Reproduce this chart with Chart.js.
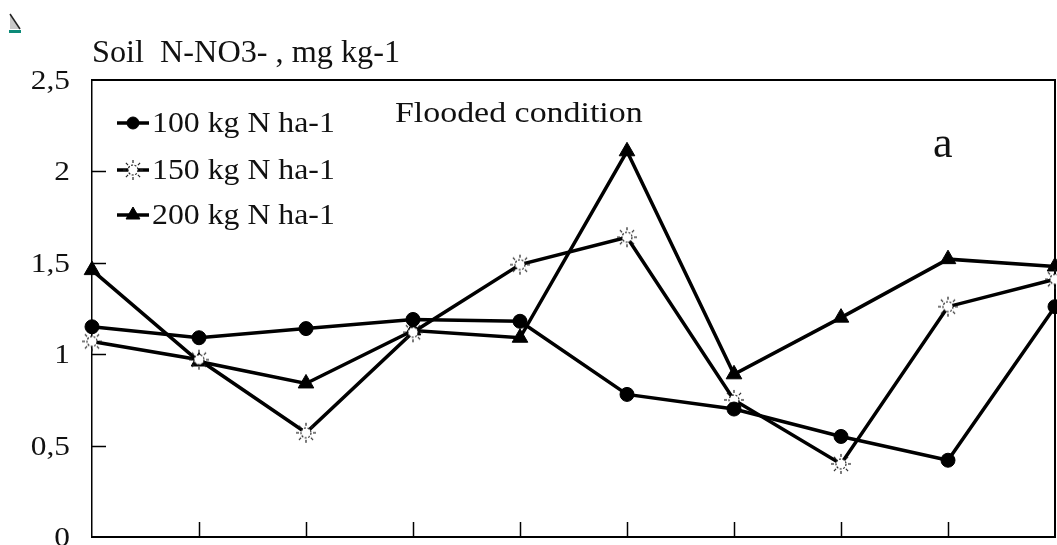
<!DOCTYPE html>
<html>
<head>
<meta charset="utf-8">
<script src="https://cdn.jsdelivr.net/npm/chart.js@4/dist/chart.umd.min.js"></script>
<style>
  html, body { margin: 0; padding: 0; background: #fff; }
  #wrap { width: 1057px; height: 545px; }
</style>
</head>
<body>
<div id="wrap"><canvas id="chart" width="1057" height="545"></canvas></div>
<script>
// Soil N-NO3- under flooded condition, three N rates

const categories = ['1', '2', '3', '4', '5', '6', '7', '8', '9', '10'];
const n100 = [1.15, 1.09, 1.14, 1.19, 1.18, 0.78, 0.70, 0.55, 0.42, 1.26];
const n150 = [1.07, 0.97, 0.57, 1.12, 1.49, 1.64, 0.75, 0.40, 1.26, 1.41];
const n200 = [1.46, 0.96, 0.84, 1.13, 1.09, 2.11, 0.89, 1.20, 1.52, 1.48];
const seriesLabels = ['100 kg N ha-1', '150 kg N ha-1', '200 kg N ha-1'];
const yTicks = [0, 0.5, 1, 1.5, 2, 2.5];

const SERIF = "'Liberation Serif', 'DejaVu Serif', serif";

// marcador "sol": círculo tracejado com raios curtos
function marcadorSol() {
  const c = document.createElement('canvas');
  c.width = 22; c.height = 22;
  const g = c.getContext('2d');
  g.strokeStyle = '#222';
  g.fillStyle = '#fff';
  g.lineWidth = 1.2;
  g.beginPath();
  g.arc(11, 11, 5, 0, Math.PI * 2);
  g.fill();
  g.setLineDash([2, 1.5]);
  g.stroke();
  g.setLineDash([]);
  for (let k = 0; k < 8; k++) {
    const ang = (k * Math.PI) / 4;
    g.beginPath();
    g.moveTo(11 + Math.cos(ang) * 7, 11 + Math.sin(ang) * 7);
    g.lineTo(11 + Math.cos(ang) * 10, 11 + Math.sin(ang) * 10);
    g.stroke();
  }
  return c;
}
const sol = marcadorSol();

const estilos = [
  { pointStyle: 'circle', pointRadius: 7, pointBackgroundColor: '#000', pointBorderWidth: 1 },
  { pointStyle: sol, pointRadius: 8, pointBackgroundColor: '#fff', pointBorderWidth: 1 },
  { pointStyle: 'triangle', pointRadius: 9, pointBackgroundColor: '#000', pointBorderWidth: 1 },
];

function texto(ctx, str, x, y, size, sx, align) {
  ctx.save();
  ctx.font = `${size}px ${SERIF}`;
  ctx.fillStyle = '#111';
  ctx.textBaseline = 'alphabetic';
  ctx.textAlign = align || 'left';
  ctx.translate(x, y);
  ctx.scale(sx || 1, 1);
  ctx.fillText(str, 0, 0);
  ctx.restore();
}

const decor = {
  id: 'decor',
  beforeDatasetsDraw(chart) {
    const { ctx, chartArea: a, scales } = chart;
    ctx.save();
    ctx.strokeStyle = '#000';
    // caixa (topo e direita)
    ctx.lineWidth = 2;
    ctx.beginPath();
    ctx.moveTo(a.left, a.top);
    ctx.lineTo(a.right, a.top);
    ctx.lineTo(a.right, a.bottom);
    ctx.stroke();
    // ticks internos no eixo y + rótulos
    ctx.lineWidth = 1.5;
    yTicks.forEach((v, i) => {
      const y = Math.round(scales.y.getPixelForValue(v)) + 0.5;
      if (i > 0 && i < yTicks.length - 1) {
        ctx.beginPath();
        ctx.moveTo(a.left, y);
        ctx.lineTo(a.left + 14, y);
        ctx.stroke();
      }
      texto(ctx, String(v).replace('.', ','), 70, y + 8, 28, 1.12, 'right');
    });
    // ticks para cima no eixo x
    for (let i = 1; i < categories.length - 1; i++) {
      const x = Math.round(scales.x.getPixelForValue(i)) + 0.5;
      ctx.beginPath();
      ctx.moveTo(x, a.bottom);
      ctx.lineTo(x, a.bottom - 15);
      ctx.stroke();
    }
    ctx.restore();
  },
  afterDraw(chart) {
    const { ctx } = chart;
    // pequeno ícone no canto
    ctx.save();
    ctx.fillStyle = '#c8c8c8';
    ctx.beginPath();
    ctx.moveTo(10, 14); ctx.lineTo(20, 29); ctx.lineTo(10, 29); ctx.closePath();
    ctx.fill();
    ctx.strokeStyle = '#222'; ctx.lineWidth = 1.5;
    ctx.beginPath(); ctx.moveTo(10, 14); ctx.lineTo(20, 29); ctx.stroke();
    ctx.fillStyle = '#0c8a78';
    ctx.fillRect(9, 30, 12, 3);
    ctx.restore();

    texto(ctx, 'Soil  N-NO3- , mg kg-1', 92, 62, 31, 1.04);
    texto(ctx, 'Flooded condition', 395, 122, 30, 1.13);
    texto(ctx, 'a', 933, 157, 44, 1);

    // legenda
    const linhas = [123, 170, 215];
    chart.data.datasets.forEach((ds, i) => {
      const y = linhas[i];
      ctx.save();
      ctx.strokeStyle = '#000';
      ctx.lineWidth = 3.5;
      ctx.beginPath();
      ctx.moveTo(117, y);
      ctx.lineTo(149, y);
      ctx.stroke();
      ctx.fillStyle = ds.pointBackgroundColor;
      ctx.strokeStyle = '#000';
      ctx.lineWidth = ds.pointBorderWidth;
      Chart.helpers.drawPoint(ctx, {
        pointStyle: ds.pointStyle,
        radius: ds.pointRadius - 1,
        rotation: 0,
        borderWidth: ds.pointBorderWidth,
      }, 133, y);
      ctx.restore();
      texto(ctx, seriesLabels[i], 152, y + 9, 30, 1.06);
    });
  },
};

const series = [n100, n150, n200];

new Chart(document.getElementById('chart'), {
  type: 'line',
  data: {
    labels: categories,
    datasets: series.map((valores, i) => ({
      label: seriesLabels[i],
      data: valores,
      borderColor: '#000',
      borderWidth: 3.5,
      pointBorderColor: '#000',
      tension: 0,
      clip: false,
      ...estilos[i],
    })),
  },
  options: {
    responsive: false,
    maintainAspectRatio: false,
    devicePixelRatio: 1,
    animation: false,
    layout: { autoPadding: false, padding: { top: 80, right: 2, left: 0, bottom: 0 } },
    plugins: { legend: { display: false }, title: { display: false }, tooltip: { enabled: false } },
    scales: {
      x: {
        offset: false,
        grid: { display: false, drawTicks: false },
        ticks: { display: false },
        border: { color: '#000', width: 2 },
        afterFit: (s) => { s.height = 8; },
      },
      y: {
        min: 0,
        max: 2.5,
        afterBuildTicks: (s) => { s.ticks = yTicks.map((v) => ({ value: v })); },
        grid: { display: false, drawTicks: false },
        border: { color: '#000', width: 1.5 },
        ticks: { display: false },
        afterFit: (s) => { s.width = 92; },
      },
    },
  },
  plugins: [decor],
});
</script>
</body>
</html>
